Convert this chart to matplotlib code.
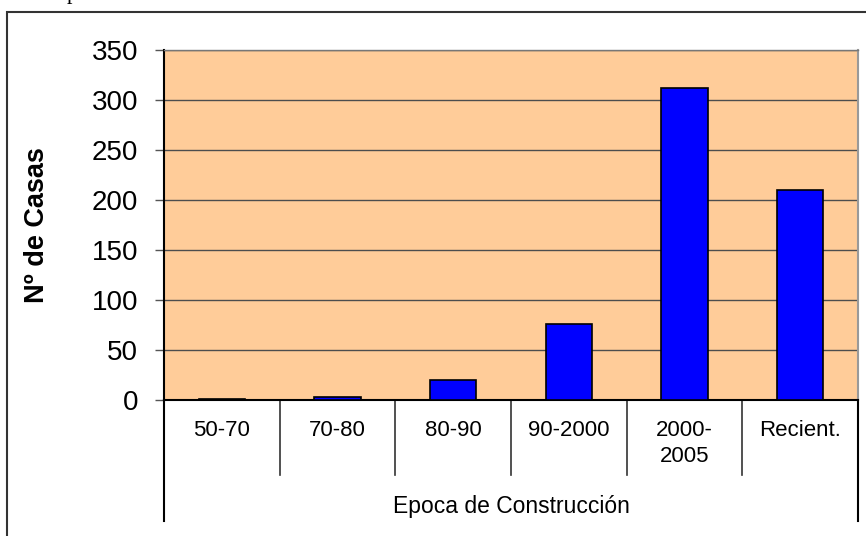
import matplotlib
matplotlib.use('Agg')
import matplotlib.pyplot as plt
from matplotlib.patches import Rectangle

# datos del gráfico
categorias = ['50-70', '70-80', '80-90', '90-2000', '2000-\n2005', 'Recient.']
casas = [1.5, 3, 20, 76, 312, 210]
yticks = [0, 50, 100, 150, 200, 250, 300, 350]

plt.rcParams['font.family'] = ['Liberation Sans', 'DejaVu Sans']

fig = plt.figure(figsize=(8.66, 5.36), dpi=100)
ax = fig.add_axes([164 / 866, 1 - 400 / 536, 694 / 866, 350 / 536])

# fondo del área de trazado
ax.set_facecolor('#FFCC99')

x = range(len(categorias))
ax.bar(x, casas, width=0.4, color='#0000FF', edgecolor='black', linewidth=1.2, zorder=3)

ax.set_xlim(-0.5, len(categorias) - 0.5)
ax.set_ylim(0, 350)
ax.set_yticks(yticks)
ax.set_yticklabels([str(v) for v in yticks], fontsize=20)
ax.tick_params(axis='y', direction='out', length=6.5, width=1, color='#555555', pad=12)
ax.set_xticks([])

# líneas de cuadrícula horizontales
ax.grid(axis='y', color='#4d4d4d', linewidth=1, zorder=1)
ax.set_axisbelow(True)

ax.spines['left'].set_color('black')
ax.spines['left'].set_linewidth(1.5)
ax.spines['bottom'].set_color('black')
ax.spines['bottom'].set_linewidth(1.5)
ax.spines['top'].set_color('#777777')
ax.spines['top'].set_linewidth(1)
ax.spines['right'].set_color('#999999')
ax.spines['right'].set_linewidth(1.5)

ax.set_ylabel('Nº de Casas', fontsize=19.5, fontweight='bold')
ax.yaxis.set_label_coords(-(164 - 50) / 694, 0.5)

# tabla de categorías debajo del eje
tr = ax.get_xaxis_transform()
for i in range(1, len(categorias)):
    ax.plot([i - 0.5, i - 0.5], [0, -75 / 350], transform=tr, color='#333333',
            linewidth=1.2, clip_on=False)
for xb in [-0.5, len(categorias) - 0.5]:
    ax.plot([xb, xb], [0, -121 / 350], transform=tr, color='black',
            linewidth=1.5, clip_on=False)

for i, cat in enumerate(categorias):
    ax.text(i, -20 / 350, cat, transform=tr, ha='center', va='top',
            fontsize=16, linespacing=1.3)

ax.text(0.5, -106 / 350, 'Epoca de Construcción', transform=ax.transAxes,
        ha='center', va='center', fontsize=16.5)

# marco exterior del gráfico
fig.patches.append(Rectangle((7 / 866, -0.1), 1.2, 1 - 12 / 536 + 0.1,
                             transform=fig.transFigure, fill=False,
                             edgecolor='#333333', linewidth=1.5))

# resto de texto cortado en la parte superior
fig.text(72 / 866, 1 + 1.5 / 536, 'p', family='Liberation Serif', fontsize=16,
         ha='center', va='baseline')

fig.savefig('out.png', dpi=100)
